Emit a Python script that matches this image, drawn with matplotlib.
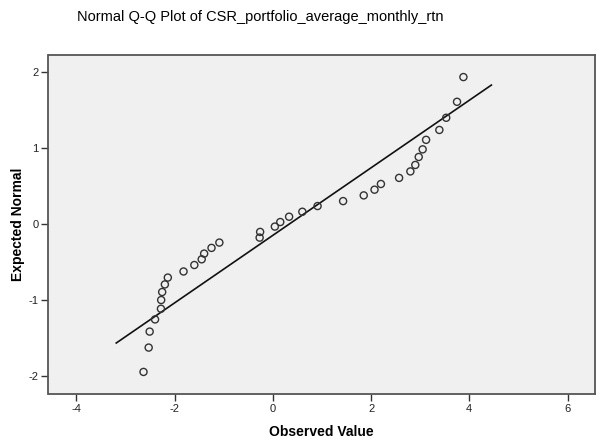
import matplotlib
matplotlib.use("Agg")
import matplotlib.pyplot as plt

plt.rcParams['font.family'] = ['Liberation Sans', 'DejaVu Sans']

# Observed values (x) and expected normal values (y)
observed = [-2.635, -2.53, -2.51, -2.40, -2.28, -2.275, -2.255, -2.20, -2.14,
            -1.82, -1.60, -1.45, -1.40, -1.25, -1.09,
            -0.27, -0.26, 0.04, 0.15, 0.33, 0.60, 0.91, 1.43, 1.85, 2.07, 2.20,
            2.57, 2.80, 2.90, 2.97, 3.05, 3.12,
            3.39, 3.53, 3.75, 3.88]
expected = [-1.94, -1.62, -1.41, -1.25, -1.11, -0.995, -0.89, -0.79, -0.70,
            -0.62, -0.535, -0.46, -0.385, -0.31, -0.24,
            -0.175, -0.10, -0.03, 0.03, 0.10, 0.165, 0.24, 0.305, 0.38, 0.455, 0.53,
            0.61, 0.695, 0.78, 0.885, 0.985, 1.11,
            1.24, 1.40, 1.61, 1.935]

# Reference line end points
line_x = [-3.19, 4.45]
line_y = [-1.56, 1.83]

x_ticks = [-4, -2, 0, 2, 4, 6]
y_ticks = [-2, -1, 0, 1, 2]

W, H = 600, 446
fig = plt.figure(figsize=(6.0, 4.46), dpi=100)
ax = fig.add_axes([48.5 / W, 1 - 394.3 / H, (595 - 48.5) / W, (394.3 - 55) / H])
ax.set_facecolor('#F0F0F0')

ax.plot(line_x, line_y, color='#111111', lw=1.2, zorder=2)
ax.scatter(observed, expected, s=26, facecolors='none', edgecolors='#333333',
           linewidths=1.0, zorder=3)

ax.set_xlim(-4.57, 6.56)
ax.set_ylim(-2.234, 2.225)
ax.set_xticks(x_ticks)
ax.set_yticks(y_ticks)
ax.set_xticklabels([str(v) for v in x_ticks])
ax.set_yticklabels([str(v) for v in y_ticks])
ax.tick_params(axis='both', direction='out', length=5, width=1, color='#333333',
               labelsize=8, labelcolor='#222222', pad=2)

for s in ax.spines.values():
    s.set_color('#555555')
    s.set_linewidth(1.3)

ax.set_xlabel('Observed Value', fontsize=10, fontweight='bold', labelpad=8)
ax.set_ylabel('Expected Normal', fontsize=10, fontweight='bold', labelpad=3)

fig.text(260 / W, 1 - 17 / H, 'Normal Q-Q Plot of CSR_portfolio_average_monthly_rtn',
         ha='center', va='center', fontsize=10.5)

fig.savefig('out.png', dpi=100, facecolor='white')
